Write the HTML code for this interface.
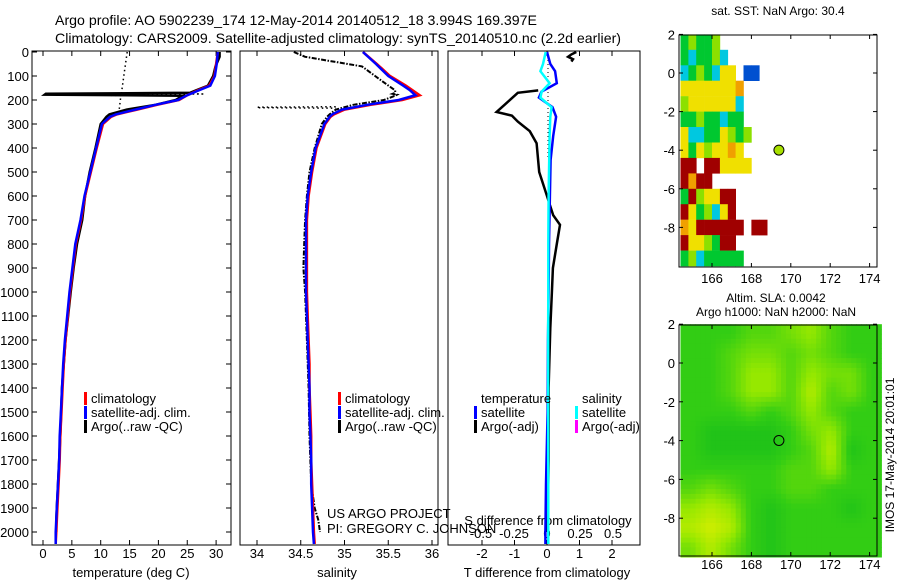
<!DOCTYPE html>
<html><head><meta charset="utf-8">
<style>
html,body{margin:0;padding:0;background:#fff;}
svg{display:block;font-family:"Liberation Sans",sans-serif;}
</style></head>
<body>
<svg id="fig" width="900" height="580" viewBox="0 0 900 580" xmlns="http://www.w3.org/2000/svg">
<text x="55" y="25" font-size="14" textLength="482" lengthAdjust="spacingAndGlyphs">Argo profile: AO 5902239_174 12-May-2014 20140512_18 3.994S 169.397E</text>
<text x="55" y="43" font-size="14" textLength="566" lengthAdjust="spacingAndGlyphs">Climatology: CARS2009. Satellite-adjusted climatology: synTS_20140510.nc (2.2d earlier)</text>
<g id="layer"></g>
</svg>
<script>
// ---------- data ----------
const climDepth = [0,50,100,140,160,180,200,220,240,260,270,300,400,500,600,700,800,900,1000,1100,1200,1300,1400,1500,1600,1700,1800,1900,2000,2050];
const climT    = [30.3,30.0,29.7,28.8,26.8,25.0,23.6,19.8,16.3,12.8,11.8,10.4,9.3,8.3,7.3,6.6,5.7,5.2,4.7,4.3,3.9,3.6,3.4,3.2,3.0,2.9,2.7,2.5,2.3,2.2];
const satT     = [30.3,30.1,29.8,29.0,27.0,25.0,23.4,19.5,16.0,12.6,11.6,10.2,9.2,8.2,7.2,6.5,5.6,5.1,4.6,4.2,3.8,3.5,3.3,3.1,2.9,2.8,2.6,2.4,2.2,2.2];
const climS    = [35.21,35.37,35.52,35.70,35.78,35.86,35.66,35.30,35.00,34.88,34.84,34.78,34.68,34.63,34.59,34.57,34.57,34.57,34.57,34.58,34.59,34.60,34.60,34.61,34.62,34.62,34.63,34.64,34.65,34.66];
const satS     = [35.21,35.36,35.50,35.67,35.75,35.81,35.62,35.26,34.97,34.86,34.83,34.77,34.67,34.62,34.58,34.56,34.56,34.56,34.56,34.57,34.58,34.59,34.60,34.60,34.61,34.62,34.62,34.63,34.64,34.65];
const argoDepth = [0,20,60,100,140,160,170,174,178,182,200,220,240,260,270,300,400,500,600,700,800,900,1000,1200,1400,1600,1800,1900,1950,2000];
const argoT     = [30.6,30.6,29.9,29.5,28.6,26.5,25.5,0.5,0.3,24.2,23.0,19.5,14.5,11.5,11.0,10.0,9.1,8.1,7.3,6.8,5.9,5.3,4.8,3.9,3.3,3.0,2.6,2.4,2.3,2.3];
const argoS     = [34.42,34.55,35.20,35.35,35.50,35.58,35.58,35.55,35.60,35.58,35.45,35.10,34.90,34.83,34.80,34.74,34.66,34.60,34.57,34.55,34.54,34.53,34.55,34.57,34.59,34.60,34.62,34.66,34.70,34.72];
const rawDepthT = [0,100,170,175,178,181,240];
const rawT      = [14.6,14.0,13.6,28.0,0.2,13.5,13.2];
const rawDepthS = [228,230,232,234];
const rawS      = [34.90,34.00,34.00,34.90];
const diffDepth = [0,50,80,130,165,190,230,270,350,450,600,800,1000,1200,1500,1800,2000,2050];
const satTdiff  = [0,0.1,0.25,0.3,-0.17,-0.25,0.17,0.28,0.19,0.11,0.09,0.06,0.05,0.03,0.02,-0.03,-0.05,-0.05];
const satSdiff  = [-0.01,-0.03,-0.05,0.02,-0.04,-0.05,0.035,0.025,0.02,0.017,0.012,0.01,0.01,0.008,0.008,0.01,0.01,0.01];
const argoDiffDepth = [160,170,250,265,290,330,380,500,600,680,720,800,900,1000,1150,1400,1700,2000];
const argoTdiff = [-0.27,-0.9,-1.55,-1.08,-0.9,-0.53,-0.32,-0.24,0,0.19,0.4,0.3,0.18,0.15,0.1,0.05,0.05,0.02];
const argoSurfDepth = [0,10,20,30,40];
const argoSurfTdiff = [0.9,0.75,0.65,0.8,0.75];
const tempTicks = [0,5,10,15,20,25,30];
const salTicks = [34,34.5,35,35.5,36];
const tdTicks = [-2,-1,0,1,2];
const sdTicks = [-0.5,-0.25,0,0.25,0.5];
const depthTicks = [0,100,200,300,400,500,600,700,800,900,1000,1100,1200,1300,1400,1500,1600,1700,1800,1900,2000];
const lonTicks = [166,168,170,172,174];
const latTicks = [2,0,-2,-4,-6,-8];
const sstRows = [
 "glggl......",
 "gcgglc.....",
 "cglgcyy.bb.",
 "yyyyyyyo...",
 "lyyyyyyc...",
 "gglggcgg...",
 "yccggylgl..",
 "ygylyyoy...",
 "rr.rryyyy..",
 "rorr.......",
 "grlyyrr....",
 "ryglcyr....",
 "oyrrrrrr.rr",
 "ryylgrr....",
 "glcggggg..."];
const sstColors = {g:"#00c830",l:"#8ce000",y:"#f0e000",o:"#f0a000",r:"#a00000",c:"#00c8e0",b:"#0050d0",n:"#000080"};
const slaGrid = [
 [3,3,3,4,4,5,6,4,3,3],
 [3,3,4,5,5,4,5,4,3,3],
 [3,3,4,6,6,4,6,5,5,3],
 [3,3,4,6,6,4,7,4,5,3],
 [3,3,3,4,3,4,6,4,3,3],
 [3,2,2,2,2,3,5,6,3,3],
 [3,2,2,2,2,3,4,7,2,3],
 [3,3,3,3,3,4,4,6,3,3],
 [4,5,4,3,3,4,4,3,3,3],
 [6,7,6,3,2,3,3,3,2,3],
 [7,8,7,3,2,3,3,3,3,3],
 [5,7,5,3,2,3,3,3,3,3]];
const argoLon = 169.397, argoLat = -3.994;

// ---------- scales ----------
const dy = d => 52 + 0.24*d;
const tx = t => 43 + 5.77*t;
const sx = s => 257 + 87.5*(s-34);
const tdx = v => 547 + 32.5*v;
const sdx = v => 547 + 132*v;
const lonx = l => 712 + 19.7*(l-166);
const sstY = l => 73 - 19.3*l;
const slaY = l => 363 - 19.4*l;

const NS="http://www.w3.org/2000/svg";
const layer=document.getElementById('layer');
function el(tag,attrs,parent){const e=document.createElementNS(NS,tag);for(const k in attrs)e.setAttribute(k,attrs[k]);(parent||layer).appendChild(e);return e;}
function txt(x,y,s,size,anchor,parent){const e=el('text',{x:x,y:y,'font-size':size,'text-anchor':anchor||'start'},parent);e.textContent=s;return e;}

function frame(x0,y0,x1,y1,name){
  const r=el('rect',{x:x0,y:y0,width:x1-x0,height:y1-y0,fill:'none',stroke:'#000','stroke-width':1});
  
  
}
function line(xs,ys,color,w,name,dash){
  let p=xs.map((x,i)=>x.toFixed(1)+','+ys[i].toFixed(1)).join(' ');
  const a={points:p,fill:'none',stroke:color,'stroke-width':w};
  if(dash)a['stroke-dasharray']=dash;
  const e=el('polyline',a);
  
  
}

const Y0=51,Y1=545;
frame(32,Y0,231,Y1,'temperature-panel');
frame(240,Y0,438,Y1,'salinity-panel');
frame(448,Y0,640,Y1,'difference-panel');

const ylab=el('g',{});


depthTicks.forEach(d=>{
  const y=dy(d);
  const t=txt(29,y+5,String(d),13,'end',ylab);
  
  
  el('line',{x1:32,y1:y,x2:37,y2:y,stroke:'#000'},ylab);
  el('line',{x1:226,y1:y,x2:231,y2:y,stroke:'#000'},ylab);
});
function xTicks(ticks,fx,y0,y1,labelY,name){
  const g=el('g',{});
  
  
  ticks.forEach(v=>{
    const x=fx(v);
    el('line',{x1:x,y1:y0,x2:x,y2:y0+5,stroke:'#000'},g);
    el('line',{x1:x,y1:y1,x2:x,y2:y1-5,stroke:'#000'},g);
    if(labelY){const t=txt(x,labelY,String(v),13,'middle',g);
      
      }
  });
}
xTicks(tempTicks,tx,Y0,Y1,558,'temperature-axis');
xTicks(salTicks,sx,Y0,Y1,558,'salinity-axis');
xTicks(tdTicks,tdx,Y0,Y1,558,'t-difference-axis');
const sdg=el('g',{});


sdTicks.forEach(v=>{const t=txt(sdx(v),538,String(v),13,'middle',sdg);
  
  });

function at(name,x,y,s,size,anchor){const t=txt(x,y,s,size,anchor);return t;}
at('x-axis-title-temperature',131,577,'temperature (deg C)',13,'middle');
at('x-axis-title-salinity',337,577,'salinity',13,'middle');
at('x-axis-title-t-difference',547,577,'T difference from climatology',13,'middle');
at('s-difference-title',548,525,'S difference from climatology',13,'middle');
at('credit-project',327,518,'US ARGO PROJECT',13,'start');
at('credit-pi',327,533,'PI: GREGORY C. JOHNSON',13,'start');

line(rawDepthT.map((d,i)=>tx(rawT[i])),rawDepthT.map(dy),'#000',1.5,'argo-raw-temperature','1.5,3');
line(argoDepth.map((d,i)=>tx(argoT[i])),argoDepth.map(dy),'#000',2.5,'argo-temperature');
line(climDepth.map((d,i)=>tx(climT[i])),climDepth.map(dy),'#f00',2.5,'climatology-temperature');
line(climDepth.map((d,i)=>tx(satT[i])),climDepth.map(dy),'#00f',2.5,'satellite-temperature');
line(rawDepthS.map((d,i)=>sx(rawS[i])),rawDepthS.map(dy),'#000',1.5,'argo-raw-salinity','1.5,3');
line(argoDepth.map((d,i)=>sx(argoS[i])),argoDepth.map(dy),'#000',2,'argo-salinity','5,1.5,1.5,1.5');
line(climDepth.map((d,i)=>sx(climS[i])),climDepth.map(dy),'#f00',2.5,'climatology-salinity');
line(climDepth.map((d,i)=>sx(satS[i])),climDepth.map(dy),'#00f',2.5,'satellite-salinity');
line([548,548],[dy(0),dy(450)],'#000',1,'zero-reference','1,3');
line(argoSurfDepth.map((d,i)=>tdx(argoSurfTdiff[i])),argoSurfDepth.map(dy),'#000',2.5,'argo-t-difference-surface');
line(argoDiffDepth.map((d,i)=>tdx(argoTdiff[i])),argoDiffDepth.map(dy),'#000',2.5,'argo-t-difference');
line(diffDepth.map((d,i)=>tdx(satTdiff[i])),diffDepth.map(dy),'#00f',2.5,'satellite-t-difference');
line(diffDepth.map((d,i)=>sdx(satSdiff[i])),diffDepth.map(dy),'#0ff',2.5,'satellite-s-difference');

function legendEntry(x,y,color,label,name){
  const g=el('g',{});
  
  
  el('rect',{x:x,y:y-11,width:3,height:13,fill:color},g);
  txt(x+7,y,label,13,'start',g);
}
[['#f00','climatology'],['#00f','satellite-adj. clim.'],['#000','Argo(..raw -QC)']].forEach((e,i)=>{
  legendEntry(84,403+i*14,e[0],e[1],'temperature-legend-entry');
  legendEntry(338,403+i*14,e[0],e[1],'salinity-legend-entry');
});
at('legend-header-temperature',481,403,'temperature',13,'start');
at('legend-header-salinity',582,403,'salinity',13,'start');
legendEntry(474,417,'#00f','satellite','legend-t-satellite');
legendEntry(474,431,'#000','Argo(-adj)','legend-t-argo');
legendEntry(575,417,'#0ff','satellite','legend-s-satellite');
legendEntry(575,431,'#f0f','Argo(-adj)','legend-s-argo');

function mapAxes(top,bottom,fy,name,labY){
  frame(679,top,877,bottom,name);
  lonTicks.forEach(l=>{const x=lonx(l);
    el('line',{x1:x,y1:top,x2:x,y2:top+4,stroke:'#000'});
    el('line',{x1:x,y1:bottom,x2:x,y2:bottom-4,stroke:'#000'});
    const t=txt(x,labY,String(l),13,'middle');
    
    });
  latTicks.forEach(l=>{const y=fy(l);
    el('line',{x1:679,y1:y,x2:683,y2:y,stroke:'#000'});
    el('line',{x1:877,y1:y,x2:873,y2:y,stroke:'#000'});
    const t=txt(675,y+5,String(l),13,'end');
    
    });
}
const sstG=el('g',{});


sstRows.forEach((row,r)=>{
  for(let c=0;c<row.length;c++){
    const ch=row[c]; if(ch==='.')continue;
    const lon0=164.4+0.4*c, lat0=2-0.8*r;
    const x0=lonx(lon0), y0=sstY(lat0);
    const cell=el('rect',{x:x0.toFixed(1),y:y0.toFixed(1),width:(lonx(lon0+0.4)-x0+0.3).toFixed(1),height:(sstY(lat0-0.8)-y0+0.3).toFixed(1),fill:sstColors[ch]},sstG);
    
    
  }
});
mapAxes(35,267,sstY,'sst-map',283);
const m1=el('circle',{cx:lonx(argoLon),cy:sstY(argoLat),r:5,fill:'#a8e000',stroke:'#000','stroke-width':1});


at('sst-map-title',778,15,'sat. SST: NaN Argo: 30.4',12,'middle');

// SLA: bilinear interpolation of grid into finer sub-cells
const stops=[[0,[0,176,32]],[3,[50,205,20]],[6,[150,232,0]],[9,[235,240,0]]];
function slaColor(v){for(let i=1;i<stops.length;i++){if(v<=stops[i][0]){const a=stops[i-1],b=stops[i];const f=(v-a[0])/(b[0]-a[0]);return 'rgb('+a[1].map((c,k)=>Math.round(c+(b[1][k]-c)*f)).join(',')+')';}}return 'rgb(235,240,0)';}
function slaAt(fr,fc){
  const R=slaGrid.length-1,C=slaGrid[0].length-1;
  fr=Math.max(0,Math.min(R,fr)); fc=Math.max(0,Math.min(C,fc));
  const r0=Math.floor(fr),c0=Math.floor(fc),r1=Math.min(R,r0+1),c1=Math.min(C,c0+1);
  const a=fr-r0,b=fc-c0;
  return slaGrid[r0][c0]*(1-a)*(1-b)+slaGrid[r0][c1]*(1-a)*b+slaGrid[r1][c0]*a*(1-b)+slaGrid[r1][c1]*a*b;
}
const slaG=el('g',{});


const SUB=4;
for(let r=0;r<slaGrid.length*SUB;r++){
  for(let c=0;c<slaGrid[0].length*SUB;c++){
    const fr=(r+0.5)/SUB-0.5, fc=(c+0.5)/SUB-0.5;
    const v=slaAt(fr,fc);
    const lon0=164.4+1.02*c/SUB, lat0=2-r/SUB;
    const x0=lonx(lon0), y0=slaY(lat0);
    const cell=el('rect',{x:x0.toFixed(1),y:y0.toFixed(1),width:(lonx(lon0+1.02/SUB)-x0+0.5).toFixed(1),height:(slaY(lat0-1/SUB)-y0+0.5).toFixed(1),fill:slaColor(v)},slaG);
    
    
  }
}
mapAxes(325,556,slaY,'sla-map',569);
const m2=el('circle',{cx:lonx(argoLon),cy:slaY(argoLat),r:5,fill:'none',stroke:'#000','stroke-width':1});


at('sla-map-title',776,302,'Altim. SLA: 0.0042',12,'middle');
at('sla-map-subtitle',776,316,'Argo h1000: NaN h2000: NaN',12,'middle');
const imos=txt(0,0,'IMOS 17-May-2014 20:01:01',12,'middle');
imos.setAttribute('transform','translate(894,455) rotate(-90)');


</script>
</body></html>
